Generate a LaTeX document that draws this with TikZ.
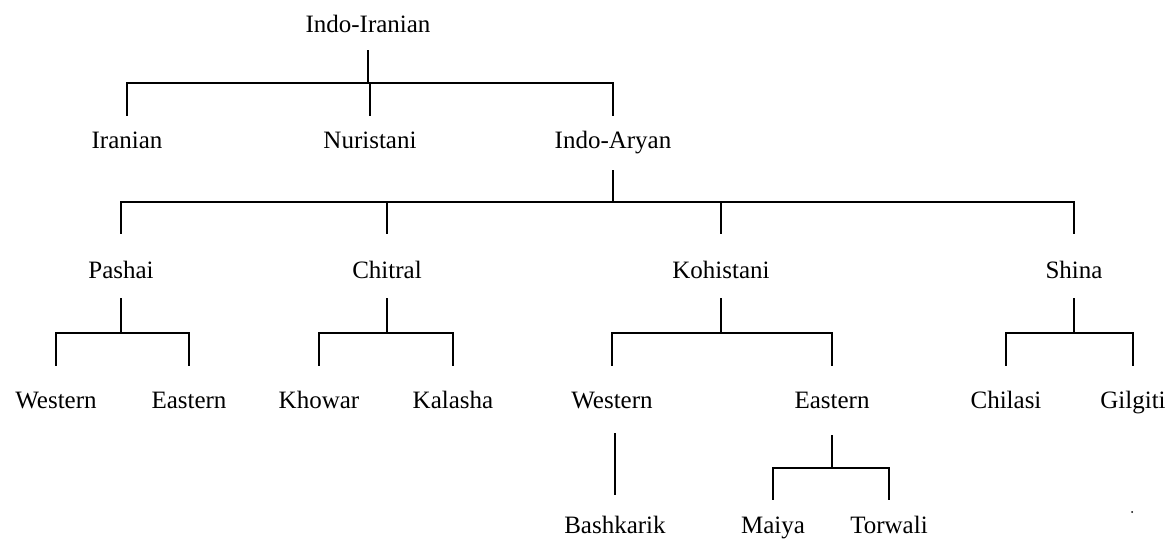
\documentclass[tikz,border=0pt]{standalone}
\usepackage{fontspec}
\setmainfont{Liberation Serif}
\begin{document}
\begin{tikzpicture}[x=1pt,y=-1pt,
  lengua/.style={anchor=base,inner sep=0pt,text height=17pt,text depth=5pt,font=\fontsize{25}{30}\selectfont},
  rama/.style={line width=1.3pt}]
\useasboundingbox (0,0) rectangle (1169,539);

% Etiqueta las lenguas
\node[lengua] (indoiranio) at (368,32) {Indo-Iranian};
\node[lengua] (iranio) at (127,148) {Iranian};
\node[lengua] (nuristani) at (370,148) {Nuristani};
\node[lengua] (indoario) at (613,148) {Indo-Aryan};

\node[lengua] (pashai) at (121,278) {Pashai};
\node[lengua] (chitral) at (387,278) {Chitral};
\node[lengua] (kohistani) at (721,278) {Kohistani};
\node[lengua] (shina) at (1074,278) {Shina};

\node[lengua] (pashaioeste) at (56,408) {Western};
\node[lengua] (pashaieste) at (189,408) {Eastern};
\node[lengua] (khowar) at (319,408) {Khowar};
\node[lengua] (kalasha) at (453,408) {Kalasha};
\node[lengua] (kohoeste) at (612,408) {Western};
\node[lengua] (koheste) at (832,408) {Eastern};
\node[lengua] (chilasi) at (1006,408) {Chilasi};
\node[lengua] (gilgiti) at (1133,408) {Gilgiti};

\node[lengua] (bashkarik) at (615,533) {Bashkarik};
\node[lengua] (maiya) at (773,533) {Maiya};
\node[lengua] (torwali) at (889,533) {Torwali};

% Dibuja las ramas de Indo-Iranian
\draw[rama] ([yshift=-13pt]indoiranio.south) -- (indoiranio |- 0,83);
\draw[rama] ([yshift=15pt]iranio.north) -- (iranio |- 0,83) -- (indoario |- 0,83) -- ([yshift=15pt]indoario.north);
\draw[rama] (nuristani |- 0,83) -- ([yshift=15pt]nuristani.north);

% Dibuja las ramas de Indo-Aryan
\draw[rama] ([yshift=-17pt]indoario.south) -- (indoario |- 0,202);
\draw[rama] ([yshift=27pt]pashai.north) -- (pashai |- 0,202) -- (shina |- 0,202) -- ([yshift=27pt]shina.north);
\draw[rama] (chitral |- 0,202) -- ([yshift=27pt]chitral.north);
\draw[rama] (kohistani |- 0,202) -- ([yshift=27pt]kohistani.north);

% Dibuja las ramas de cada grupo
\draw[rama] ([yshift=-15pt]pashai.south) -- (pashai |- 0,333);
\draw[rama] ([yshift=25pt]pashaioeste.north) -- (pashaioeste |- 0,333) -- (pashaieste |- 0,333) -- ([yshift=25pt]pashaieste.north);

\draw[rama] ([yshift=-15pt]chitral.south) -- (chitral |- 0,333);
\draw[rama] ([yshift=25pt]khowar.north) -- (khowar |- 0,333) -- (kalasha |- 0,333) -- ([yshift=25pt]kalasha.north);

\draw[rama] ([yshift=-15pt]kohistani.south) -- (kohistani |- 0,333);
\draw[rama] ([yshift=25pt]kohoeste.north) -- (kohoeste |- 0,333) -- (koheste |- 0,333) -- ([yshift=25pt]koheste.north);

\draw[rama] ([yshift=-15pt]shina.south) -- (shina |- 0,333);
\draw[rama] ([yshift=25pt]chilasi.north) -- (chilasi |- 0,333) -- (gilgiti |- 0,333) -- ([yshift=25pt]gilgiti.north);

% Dibuja las ramas de Western y Eastern
\draw[rama] ([yshift=-20pt]bashkarik |- kohoeste.south) -- ([yshift=21pt]bashkarik.north);
\draw[rama] ([yshift=-22pt]koheste.south) -- (koheste |- 0,468);
\draw[rama] ([yshift=16pt]maiya.north) -- (maiya |- 0,468) -- (torwali |- 0,468) -- ([yshift=16pt]torwali.north);

% Punto suelto
\fill (1132,512) circle (1pt);

\end{tikzpicture}
\end{document}
